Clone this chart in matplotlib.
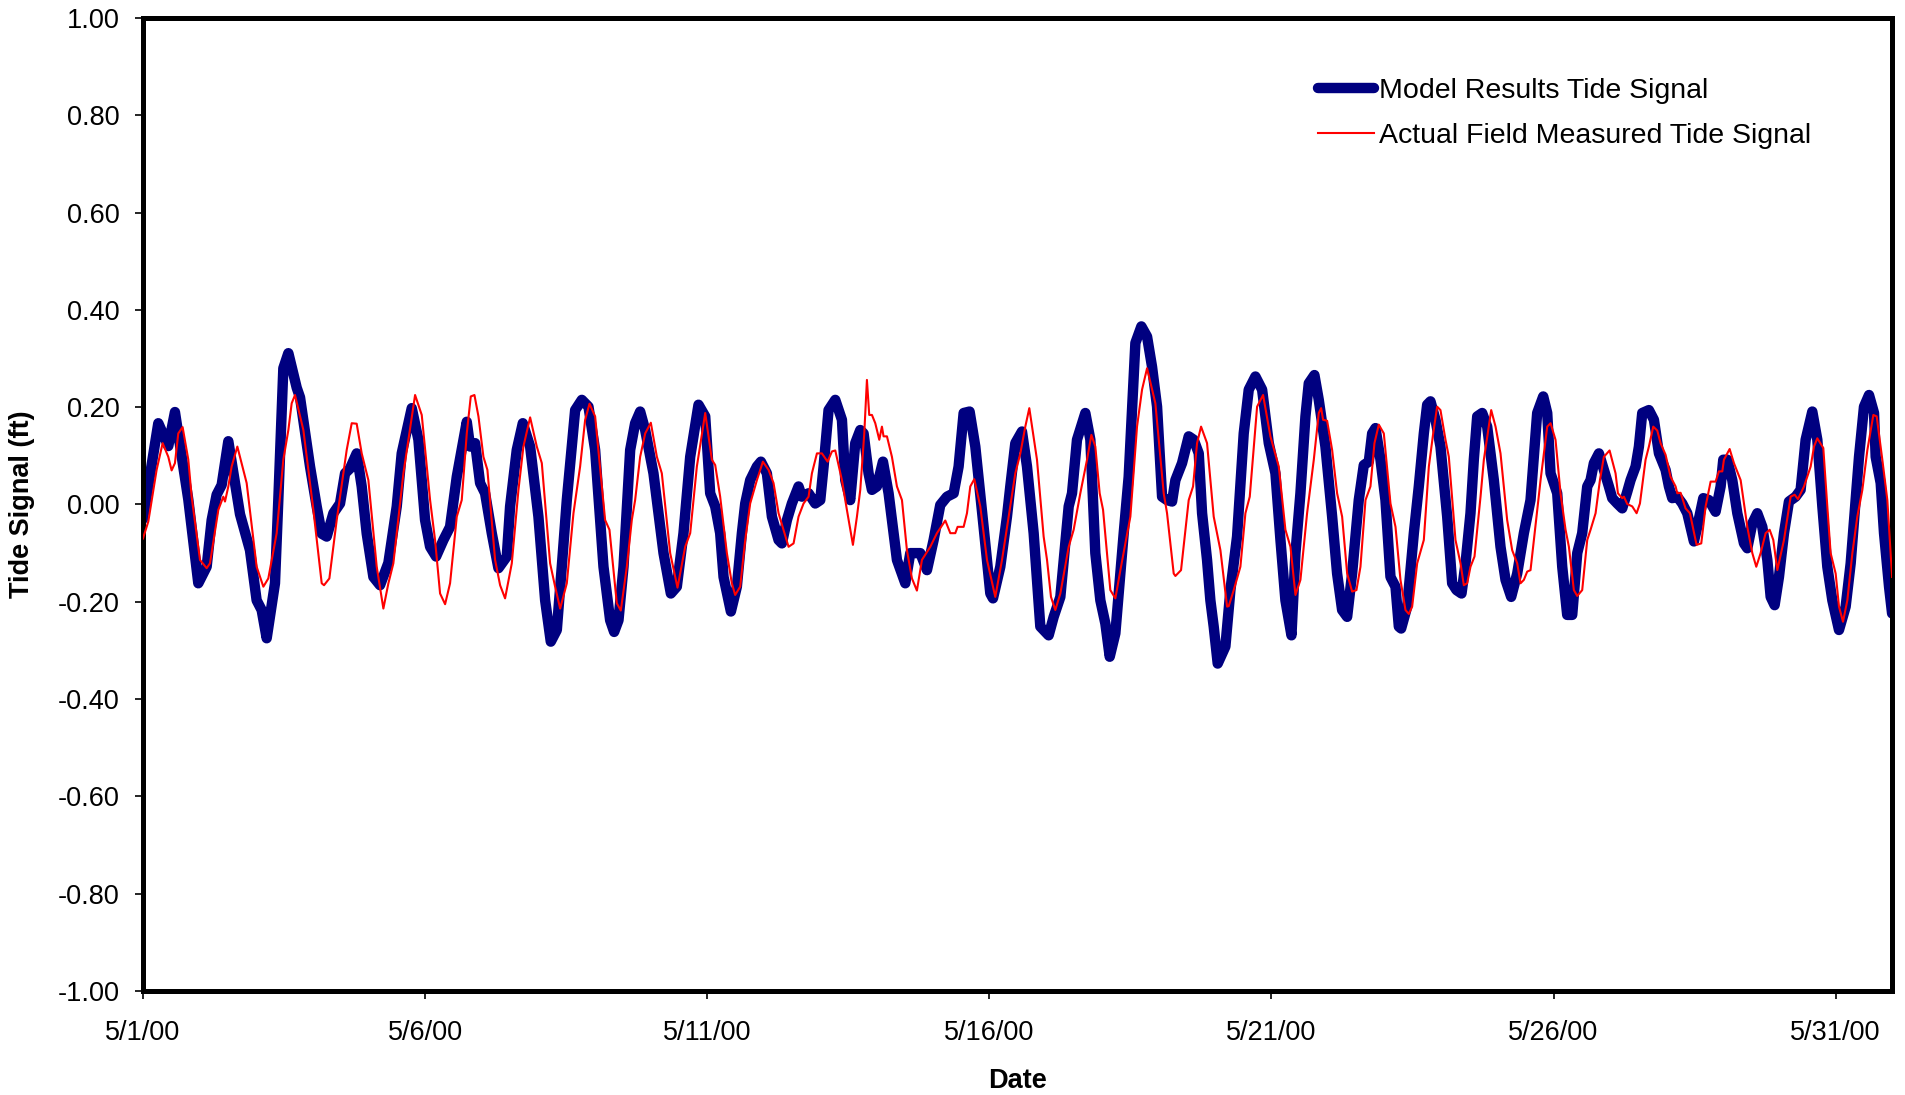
import numpy as np
import matplotlib
matplotlib.use("Agg")
import matplotlib.pyplot as plt

plt.rcParams['font.family'] = ['Liberation Sans', 'DejaVu Sans']
plt.rcParams['axes.unicode_minus'] = False

# days since 5/1/00 and tide signal (ft)
model_day = [
    0.0, 0.272, 0.449, 0.567, 0.804, 0.981, 1.129, 1.218, 1.306, 1.395, 1.513, 1.720, 1.897, 2.015,
    2.104, 2.193, 2.340, 2.399, 2.488, 2.577, 2.725, 2.784, 2.961, 3.079, 3.168, 3.257, 3.375, 3.493,
    3.582, 3.670, 3.788, 3.877, 3.966, 4.084, 4.202, 4.350, 4.498, 4.586, 4.764, 4.882, 5.0,
    5.089, 5.195, 5.325, 5.443, 5.562, 5.739, 5.798, 5.887, 5.975, 6.064, 6.182, 6.300, 6.448, 6.507,
    6.625, 6.732, 6.862, 7.009, 7.128, 7.228, 7.335, 7.423, 7.512, 7.660, 7.778, 7.896, 8.014, 8.162,
    8.280, 8.351, 8.428, 8.517, 8.635, 8.723, 8.812, 8.901, 9.048, 9.226, 9.356, 9.462, 9.580, 9.699,
    9.846, 9.965, 10.053, 10.142,
    10.230, 10.290, 10.420, 10.526, 10.615, 10.674, 10.762, 10.881, 10.952, 11.058, 11.147, 11.265,
    11.324, 11.413, 11.501, 11.619, 11.678, 11.797, 11.915, 12.004, 12.063, 12.151, 12.270, 12.388,
    12.447, 12.535, 12.624, 12.713, 12.772, 12.860, 12.920, 13.008, 13.115, 13.215, 13.304, 13.363,
    13.511, 13.599, 13.777, 13.895, 14.013, 14.131, 14.250, 14.368, 14.456, 14.545, 14.651, 14.752,
    14.899, 15.018, 15.065, 15.195, 15.313,
    15.372, 15.461, 15.579, 15.668, 15.786, 15.904, 16.052, 16.141, 16.259, 16.407, 16.466, 16.554,
    16.702, 16.791, 16.879, 16.968, 17.057, 17.134, 17.234, 17.382, 17.470, 17.589, 17.695, 17.796,
    17.884, 17.973, 18.062, 18.150, 18.239, 18.298, 18.416, 18.534, 18.623, 18.712, 18.771, 18.859,
    18.918, 18.977, 19.048, 19.184, 19.273, 19.391, 19.509, 19.598, 19.716, 19.835, 19.953, 20.071,
    20.160, 20.248, 20.355, 20.426,
    20.514, 20.603, 20.662, 20.762, 20.839, 20.957, 21.076, 21.164, 21.253, 21.342, 21.430, 21.548,
    21.637, 21.726, 21.785, 21.844, 21.933, 22.021, 22.110, 22.199, 22.258, 22.299, 22.406, 22.524,
    22.612, 22.701, 22.760, 22.819, 22.908, 22.996, 23.115, 23.203, 23.280, 23.369, 23.440, 23.528,
    23.587, 23.647, 23.735, 23.824, 23.942, 24.060, 24.149, 24.249, 24.356, 24.474, 24.592, 24.710,
    24.817, 24.888, 24.947, 25.065, 25.154, 25.242, 25.331, 25.420, 25.508, 25.597,
    25.656, 25.715, 25.804, 25.892, 25.981, 26.040, 26.129, 26.217, 26.306, 26.365, 26.454, 26.513,
    26.572, 26.690, 26.779, 26.868, 26.986, 27.045, 27.104, 27.193, 27.281, 27.370, 27.488, 27.547,
    27.654, 27.754, 27.872, 27.961, 28.008, 28.079, 28.168, 28.257, 28.375, 28.434, 28.523, 28.611,
    28.700, 28.789, 28.848, 28.918, 28.995, 29.084, 29.172, 29.291, 29.379, 29.468, 29.586, 29.675,
    29.764, 29.852, 29.941, 30.059, 30.177, 30.266, 30.355, 30.414, 30.502, 30.591, 30.680, 30.709,
    30.798, 30.857, 30.946, 31.0,
]
model_val = [
    -0.03, 0.167, 0.12, 0.19, 0.01, -0.162, -0.128, -0.032, 0.02, 0.04, 0.13, -0.02, -0.094, -0.197,
    -0.217, -0.275, -0.162, 0.009, 0.28, 0.311, 0.24, 0.22, 0.078, -0.004, -0.06, -0.066, -0.018, 0.002,
    0.064, 0.074, 0.105, 0.037, -0.06, -0.149, -0.166, -0.12, -0.004, 0.105, 0.198, 0.133, -0.032,
    -0.087, -0.107, -0.073, -0.046, 0.057, 0.17, 0.119, 0.126, 0.044, 0.023, -0.059, -0.131, -0.107, -0.004,
    0.112, 0.167, 0.119, -0.025, -0.197, -0.282, -0.258, -0.128, 0.009, 0.194, 0.215, 0.201, 0.112, -0.128,
    -0.238, -0.262, -0.238, -0.128, 0.112, 0.167, 0.191, 0.153, 0.064, -0.1, -0.183, -0.169, -0.059, 0.098,
    0.205, 0.181, 0.023, -0.004,
    -0.059, -0.149, -0.22, -0.169, -0.059, 0.002, 0.05, 0.078, 0.088, 0.064, -0.025, -0.073,
    -0.08, -0.032, 0.002, 0.037, 0.016, 0.023, 0.002, 0.009, 0.078, 0.194, 0.215, 0.174,
    0.05, 0.009, 0.126, 0.153, 0.146, 0.064, 0.03, 0.037, 0.088, 0.023, -0.059, -0.114,
    -0.162, -0.1, -0.1, -0.135, -0.073, -0.001, 0.016, 0.023, 0.078, 0.188, 0.191, 0.119,
    -0.046, -0.183, -0.193, -0.128, -0.025,
    0.037, 0.126, 0.15, 0.078, -0.059, -0.251, -0.269, -0.231, -0.19, -0.004, 0.023, 0.133,
    0.188, 0.133, -0.1, -0.197, -0.245, -0.313, -0.265, -0.059, 0.057, 0.332, 0.366, 0.345,
    0.283, 0.201, 0.016, 0.009, 0.006, 0.05, 0.085, 0.14, 0.133, 0.105, -0.018, -0.114,
    -0.197, -0.251, -0.327, -0.292, -0.176, -0.066, 0.146, 0.236, 0.263, 0.236, 0.126, 0.064,
    -0.073, -0.197, -0.269, -0.1,
    0.023, 0.181, 0.249, 0.266, 0.215, 0.119, -0.025, -0.142, -0.217, -0.231, -0.142, 0.009,
    0.081, 0.088, 0.146, 0.157, 0.092, 0.009, -0.149, -0.169, -0.251, -0.255, -0.21, -0.059,
    0.037, 0.146, 0.205, 0.212, 0.174, 0.119, -0.025, -0.162, -0.176, -0.183, -0.121, -0.018,
    0.092, 0.181, 0.188, 0.16, 0.05, -0.087, -0.155, -0.19, -0.142, -0.059, 0.009, 0.188,
    0.222, 0.188, 0.064, 0.023, -0.128, -0.227, -0.227, -0.1, -0.059, 0.037,
    0.05, 0.085, 0.105, 0.071, 0.037, 0.013, 0.002, -0.008, 0.026, 0.05, 0.078, 0.119,
    0.188, 0.194, 0.174, 0.105, 0.071, 0.037, 0.013, 0.016, 0.002, -0.018, -0.076, -0.046,
    0.013, 0.009, -0.015, 0.037, 0.092, 0.092, 0.05, -0.018, -0.08, -0.09, -0.039, -0.018,
    -0.046, -0.114, -0.19, -0.207, -0.149, -0.059, 0.006, 0.016, 0.03, 0.133, 0.191, 0.133,
    -0.004, -0.128, -0.197, -0.258, -0.21, -0.121, 0.009, 0.098, 0.201, 0.225, 0.188, 0.098,
    0.044, -0.059, -0.169, -0.224,
]

field_day = [
    0.0, 0.095, 0.242, 0.349, 0.449, 0.508, 0.567, 0.626, 0.703, 0.804, 0.863, 1.011, 1.129, 1.188,
    1.336, 1.424, 1.454, 1.513, 1.572, 1.673, 1.838, 2.015, 2.134, 2.222, 2.370, 2.488, 2.577, 2.636,
    2.695, 2.843, 3.020, 3.168, 3.209, 3.304, 3.434, 3.611, 3.700, 3.788, 3.877, 3.995, 4.143, 4.261,
    4.350, 4.438, 4.616, 4.823, 4.941,
    5.089, 5.177, 5.266, 5.355, 5.443, 5.562, 5.650, 5.739, 5.810, 5.875, 5.946, 6.034, 6.105, 6.241,
    6.330, 6.418, 6.537, 6.655, 6.743, 6.862, 6.980, 7.069, 7.216, 7.305, 7.394, 7.512, 7.630, 7.748,
    7.837, 7.914, 8.014, 8.191, 8.268, 8.398, 8.469, 8.576, 8.664, 8.723, 8.812, 8.901, 9.001, 9.108,
    9.196, 9.344, 9.474, 9.610, 9.699, 9.817, 9.965, 10.083, 10.142,
    10.230, 10.349, 10.437, 10.496, 10.585, 10.674, 10.762, 10.881, 10.987, 11.088, 11.176, 11.265,
    11.353, 11.442, 11.531, 11.619, 11.708, 11.797, 11.856, 11.945, 12.033, 12.134, 12.211, 12.270,
    12.388, 12.476, 12.583, 12.654, 12.713, 12.784, 12.831, 12.872, 12.920, 12.979, 13.050, 13.097,
    13.126, 13.186, 13.274, 13.363, 13.452, 13.540, 13.629, 13.717, 13.806, 13.954, 14.072, 14.220,
    14.309, 14.397, 14.438, 14.545, 14.604, 14.663, 14.734, 14.840, 14.959, 15.106, 15.225,
    15.372, 15.461, 15.550, 15.638, 15.709, 15.845, 15.963, 16.023, 16.093, 16.170, 16.259, 16.407,
    16.495, 16.613, 16.732, 16.809, 16.879, 16.956, 17.016, 17.145, 17.234, 17.323, 17.411, 17.500,
    17.618, 17.707, 17.796, 17.943, 18.091, 18.150, 18.268, 18.298, 18.398, 18.534, 18.611, 18.682,
    18.753, 18.859, 18.977, 19.096, 19.214, 19.243, 19.332, 19.450, 19.539, 19.616, 19.746, 19.852,
    19.982, 20.130, 20.248, 20.337, 20.426,
    20.514, 20.632, 20.751, 20.839, 20.881, 20.916, 20.987, 21.076, 21.164, 21.253, 21.342, 21.430,
    21.507, 21.578, 21.667, 21.755, 21.826, 21.903, 21.992, 22.110, 22.199, 22.287, 22.376, 22.435,
    22.494, 22.583, 22.701, 22.790, 22.867, 22.937, 22.996, 23.085, 23.144, 23.262, 23.351, 23.410,
    23.469, 23.528, 23.599, 23.706, 23.765, 23.895, 23.972, 24.060, 24.178, 24.267, 24.356, 24.415,
    24.474, 24.533, 24.592, 24.651, 24.770, 24.888, 24.947, 25.035, 25.124, 25.213, 25.272, 25.360,
    25.420, 25.508, 25.597,
    25.656, 25.745, 25.822, 25.892, 25.993, 26.099, 26.141, 26.217, 26.247, 26.306, 26.395, 26.472,
    26.531, 26.631, 26.690, 26.767, 26.838, 26.897, 26.986, 27.074, 27.163, 27.193, 27.252, 27.340,
    27.417, 27.535, 27.618, 27.695, 27.784, 27.872, 27.931, 27.991, 28.020, 28.121, 28.197, 28.316,
    28.434, 28.523, 28.593, 28.670, 28.759, 28.830, 28.895, 28.966, 29.084, 29.202, 29.273, 29.332,
    29.439, 29.557, 29.616, 29.675, 29.781, 29.852, 29.911, 30.0, 30.059, 30.130, 30.207, 30.296,
    30.384, 30.473, 30.562, 30.668, 30.727, 30.827, 30.916, 31.0,
]
field_val = [
    -0.07, -0.035, 0.071, 0.126, 0.098, 0.07, 0.085, 0.146, 0.159, 0.092, 0.016, -0.114, -0.131, -0.121,
    -0.011, 0.016, 0.006, 0.037, 0.078, 0.119, 0.044, -0.128, -0.169, -0.152, -0.059, 0.092, 0.153, 0.208,
    0.225, 0.153, -0.011, -0.162, -0.166, -0.152, -0.032, 0.112, 0.167, 0.166, 0.105, 0.05, -0.128, -0.214,
    -0.162, -0.121, 0.064, 0.225, 0.184,
    0.009, -0.073, -0.183, -0.205, -0.162, -0.025, 0.009, 0.146, 0.222, 0.225, 0.181, 0.098, 0.071, -0.114,
    -0.166, -0.193, -0.121, 0.03, 0.119, 0.179, 0.119, 0.085, -0.121, -0.169, -0.214, -0.162, -0.018, 0.078,
    0.174, 0.207, 0.181, -0.032, -0.052, -0.203, -0.218, -0.128, -0.032, 0.009, 0.098, 0.146, 0.168, 0.098,
    0.064, -0.1, -0.171, -0.087, -0.059, 0.078, 0.188, 0.092, 0.081,
    0.016, -0.1, -0.162, -0.186, -0.169, -0.073, 0.002, 0.05, 0.088, 0.071, 0.044, -0.018,
    -0.052, -0.087, -0.08, -0.025, 0.002, 0.016, 0.064, 0.105, 0.105, 0.088, 0.109, 0.111,
    0.05, -0.011, -0.083, -0.025, 0.03, 0.146, 0.256, 0.184, 0.184, 0.167, 0.133, 0.16,
    0.14, 0.14, 0.098, 0.037, 0.009, -0.094, -0.152, -0.177, -0.114, -0.087, -0.059, -0.033,
    -0.059, -0.059, -0.046, -0.046, -0.018, 0.037, 0.052, -0.004, -0.114, -0.19, -0.114,
    -0.004, 0.064, 0.105, 0.16, 0.198, 0.092, -0.066, -0.114, -0.19, -0.217, -0.183, -0.087,
    -0.052, 0.023, 0.092, 0.143, 0.119, 0.023, -0.011, -0.176, -0.193, -0.135, -0.08, -0.025,
    0.16, 0.236, 0.28, 0.208, 0.023, -0.018, -0.142, -0.147, -0.135, 0.009, 0.037, 0.126,
    0.16, 0.126, -0.025, -0.094, -0.21, -0.209, -0.176, -0.128, -0.018, 0.016, 0.201, 0.225,
    0.14, 0.078, -0.052, -0.087, -0.186,
    -0.155, -0.018, 0.092, 0.188, 0.198, 0.174, 0.172, 0.112, 0.023, -0.025, -0.142, -0.179,
    -0.176, -0.128, 0.009, 0.037, 0.126, 0.164, 0.146, 0.002, -0.046, -0.155, -0.217, -0.225,
    -0.21, -0.121, -0.073, 0.078, 0.146, 0.201, 0.194, 0.133, 0.098, -0.073, -0.121, -0.166,
    -0.162, -0.128, -0.107, 0.016, 0.092, 0.194, 0.16, 0.105, -0.032, -0.094, -0.121, -0.162,
    -0.155, -0.138, -0.135, -0.073, 0.05, 0.16, 0.167, 0.133, 0.023, -0.052, -0.087, -0.176,
    -0.188, -0.176, -0.073,
    -0.052, -0.018, 0.05, 0.098, 0.111, 0.064, 0.023, 0.013, 0.016, 0.001, -0.004, -0.018,
    0.002, 0.092, 0.119, 0.16, 0.152, 0.126, 0.102, 0.057, 0.037, 0.023, 0.024, -0.008,
    -0.018, -0.083, -0.08, -0.004, 0.047, 0.047, 0.068, 0.068, 0.092, 0.114, 0.085, 0.05,
    -0.046, -0.1, -0.128, -0.1, -0.059, -0.052, -0.073, -0.135, -0.073, 0.016, 0.02, 0.011,
    0.037, 0.078, 0.119, 0.136, 0.116, -0.004, -0.1, -0.142, -0.21, -0.241, -0.197, -0.1,
    -0.025, 0.03, 0.112, 0.184, 0.181, 0.092, 0.009, -0.149,
]

tick_days = [0, 5, 10, 15, 20, 25, 30]
tick_labels = ["5/1/00", "5/6/00", "5/11/00", "5/16/00", "5/21/00", "5/26/00", "5/31/00"]
y_ticks = [-1.0, -0.8, -0.6, -0.4, -0.2, 0.0, 0.2, 0.4, 0.6, 0.8, 1.0]

fig = plt.figure(figsize=(19.06, 10.95), dpi=100)
ax = fig.add_axes([0.075, 0.095, 0.9177, 0.8886])

ax.plot(model_day, model_val, color='#000080', lw=7.5, solid_joinstyle='round',
        solid_capstyle='round', label='Model Results Tide Signal', zorder=2)
ax.plot(field_day, field_val, color='#FF0000', lw=1.5,
        label='Actual Field Measured Tide Signal', zorder=3)

ax.set_xlim(0, 31)
ax.set_ylim(-1.0, 1.0)
ax.set_xticks(tick_days)
ax.set_xticklabels(tick_labels)
ax.set_yticks(y_ticks)
ax.set_yticklabels([f"{v:.2f}" for v in y_ticks])

for s in ax.spines.values():
    s.set_linewidth(3.6)
    s.set_color('black')

ax.tick_params(axis='both', direction='out', length=6, width=1.2, labelsize=19.5, colors='black')
ax.tick_params(axis='x', pad=15)
ax.tick_params(axis='y', pad=11)

ax.set_xlabel('Date', fontsize=19.5, fontweight='bold', labelpad=16)
ax.set_ylabel('Tide Signal (ft)', fontsize=19.5, fontweight='bold', labelpad=16)

leg = ax.legend(loc='upper left', bbox_to_anchor=(0.672, 0.938), frameon=False,
                fontsize=20.5, handlelength=1.95, handletextpad=0.17, borderpad=0,
                borderaxespad=0, labelspacing=0.65)

fig.savefig('out.png', dpi=100, facecolor='white')
